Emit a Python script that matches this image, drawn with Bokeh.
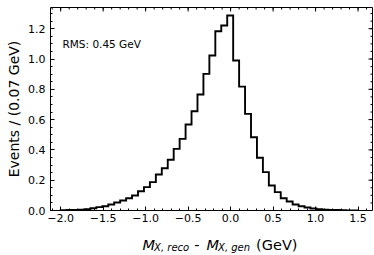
import numpy as np
from bokeh.plotting import figure
from bokeh.layouts import column
from bokeh.models import LinearAxis, FixedTicker, CustomJSTickFormatter, Label, Range1d
from bokeh.embed import file_html
from bokeh.resources import INLINE

# ---- data ----
bin_start = -2.0
bin_width = 0.07
counts = [0.002, 0.003, 0.004, 0.006, 0.009, 0.015, 0.022, 0.028, 0.040, 0.053,
          0.066, 0.081, 0.099, 0.127, 0.154, 0.187, 0.238, 0.279, 0.335, 0.407,
          0.473, 0.568, 0.655, 0.766, 0.902, 1.023, 1.183, 1.221, 1.287, 0.990,
          0.818, 0.638, 0.484, 0.348, 0.253, 0.165, 0.121, 0.081, 0.059, 0.040,
          0.028, 0.020, 0.013, 0.009, 0.006, 0.004, 0.003, 0.002, 0.001, 0.001]
x_ticks = [-2.0, -1.5, -1.0, -0.5, 0.0, 0.5, 1.0, 1.5]
x_minor = [round(-2.1 + 0.1 * i, 2) for i in range(38)]
y_ticks = [0.0, 0.2, 0.4, 0.6, 0.8, 1.0, 1.2]
y_minor = [round(0.05 * i, 2) for i in range(27)]
rms_text = "RMS: 0.45 GeV"
y_label = "Events / (0.07 GeV)"
x_label_main = ["M", "-", "M", "(GeV)"]
x_label_subs = ["X, reco", "X, gen"]

edges = bin_start + bin_width * np.arange(len(counts) + 1)
xs = [edges[0]]
ys = [0.0]
for i, c in enumerate(counts):
    xs += [edges[i], edges[i + 1]]
    ys += [c, c]
xs.append(edges[-1])
ys.append(0.0)

FONT = "DejaVu Sans"
W = 374
BL, BR, BT, BB = 50, 2, 7, 20
FH = 203
H1 = BT + FH + BB
H2 = 255 - H1
X0, X1 = -2.12, 1.67
Y0, Y1 = 0.0, 1.340
FW = W - BL - BR

p = figure(width=W, height=H1, output_backend="svg", toolbar_location=None,
           x_range=Range1d(X0, X1), y_range=Range1d(Y0, Y1),
           x_axis_location=None, y_axis_location=None,
           min_border_left=BL, min_border_right=BR, min_border_top=BT, min_border_bottom=BB)
p.grid.visible = False
p.outline_line_color = "black"
p.outline_line_width = 1
p.background_fill_color = "white"
p.border_fill_color = "white"

p.line(xs, ys, line_width=1.9, line_color="black", line_join="miter")

minus_fmt = CustomJSTickFormatter(code="return tick.toFixed(1).replace('-', '\u2212');")

def style(ax):
    ax.axis_line_color = None
    ax.major_tick_in = 4
    ax.major_tick_out = 0
    ax.minor_tick_in = 2
    ax.minor_tick_out = 0
    ax.major_tick_line_color = "black"
    ax.minor_tick_line_color = "black"
    ax.major_label_text_font = FONT
    ax.major_label_text_color = "black"
    ax.major_label_text_font_size = "11px"

xb = LinearAxis(ticker=FixedTicker(ticks=x_ticks, minor_ticks=x_minor), formatter=minus_fmt)
style(xb)
xb.major_label_standoff = 3
p.add_layout(xb, "below")

yl = LinearAxis(ticker=FixedTicker(ticks=y_ticks, minor_ticks=y_minor), formatter=minus_fmt,
                axis_label=y_label)
style(yl)
yl.major_label_standoff = 5
yl.axis_label_standoff = 3
yl.axis_label_text_font = FONT
yl.axis_label_text_font_size = "14px"
yl.axis_label_text_font_style = "normal"
yl.axis_label_text_color = "black"
p.add_layout(yl, "left")

# mirrored ticks on top and right (inside)
dx = (X1 - X0) / FW
dy = (Y1 - Y0) / FH
p.segment(x0=x_ticks, y0=[Y1] * len(x_ticks), x1=x_ticks, y1=[Y1 - 4 * dy] * len(x_ticks),
          line_color="black", line_width=1)
p.segment(x0=x_minor, y0=[Y1] * len(x_minor), x1=x_minor, y1=[Y1 - 2 * dy] * len(x_minor),
          line_color="black", line_width=1)
p.segment(x0=[X1] * len(y_ticks), y0=y_ticks, x1=[X1 - 4 * dx] * len(y_ticks), y1=y_ticks,
          line_color="black", line_width=1)
p.segment(x0=[X1] * len(y_minor), y0=y_minor, x1=[X1 - 2 * dx] * len(y_minor), y1=y_minor,
          line_color="black", line_width=1)

# RMS annotation
p.add_layout(Label(x=12, y=1.10, x_units="screen", y_units="data", text=rms_text,
                   text_font=FONT, text_font_size="10.5px", text_baseline="middle",
                   text_color="black"))

# x-axis label with subscripts, in a strip below the plot (its frame aligns with the plot's)
q = figure(width=W, height=H2, output_backend="svg", toolbar_location=None,
           x_range=Range1d(BL, BL + FW), y_range=Range1d(0, H2),
           x_axis_location=None, y_axis_location=None,
           min_border_left=BL, min_border_right=BR, min_border_top=0, min_border_bottom=0)
q.grid.visible = False
q.outline_line_color = None
q.background_fill_color = "white"
q.border_fill_color = "white"

MF, SF = 14.5, 10.0
base = 11.0
sub_base = base - 3.0
start, end = 142.0, 297.0
m1_x = start
s1_x = m1_x + 0.80 * MF
dash_x = s1_x + 3.51 * SF + 5.0
m2_x = dash_x + 0.361 * MF + 7.0
s2_x = m2_x + 0.80 * MF

def put(x, y, txt, fs, style_, align="left"):
    q.add_layout(Label(x=x, y=y, text=txt, text_font=FONT, text_font_size=f"{fs}px",
                       text_font_style=style_, text_baseline="alphabetic", text_align=align,
                       text_color="black"))

put(m1_x, base, x_label_main[0], MF, "italic")
put(s1_x, sub_base, x_label_subs[0], SF, "italic")
put(dash_x, base, x_label_main[1], MF, "normal")
put(m2_x, base, x_label_main[2], MF, "italic")
put(s2_x, sub_base, x_label_subs[1], SF, "italic")
put(end, base, x_label_main[3], MF, "normal", align="right")

layout = column(p, q, spacing=0)
open("out.html", "w").write(file_html(layout, INLINE))
